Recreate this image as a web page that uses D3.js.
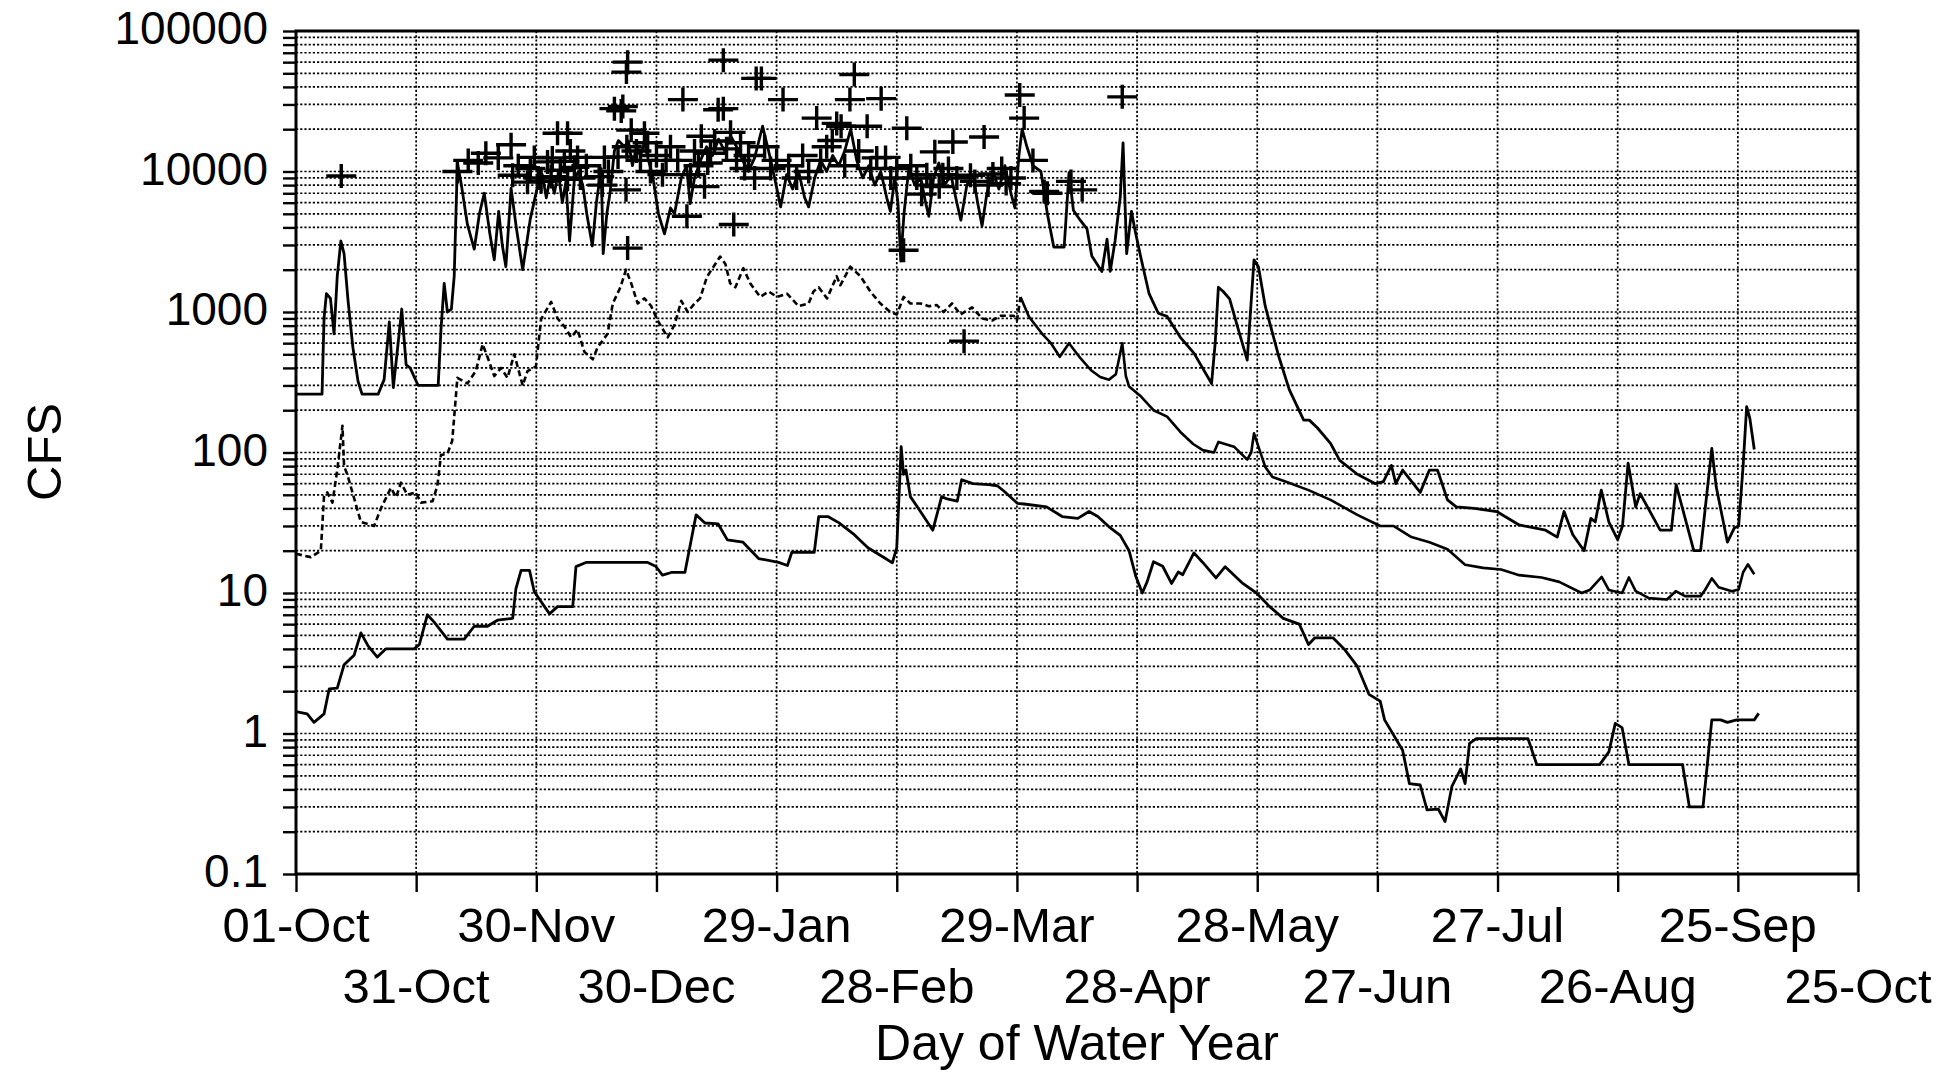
<!DOCTYPE html>
<html><head><meta charset="utf-8">
<script src="https://cdn.jsdelivr.net/npm/d3@7"></script>
<style>
html,body{margin:0;padding:0;background:#fff;}
svg{display:block;}
text{font-family:"Liberation Sans",Arial,Helvetica,sans-serif;fill:#000;}
</style></head><body>
<svg id="chart" width="1953" height="1077"></svg>
<script>
// ---------------- DATA ----------------
const tickLabels = ["01-Oct","31-Oct","30-Nov","30-Dec","29-Jan","28-Feb","29-Mar","28-Apr","28-May","27-Jun","27-Jul","26-Aug","25-Sep","25-Oct"];
const yDecades = [0.1, 1, 10, 100, 1000, 10000, 100000];
const xTitle = "Day of Water Year";
const yTitle = "CFS";

// upper solid line [day of water year, cfs]
const maxFlow = [[0,260],[6.5,260],[7,900],[7.6,1350],[8.6,1250],[9.5,700],[10.3,1800],[11.2,3200],[12,2600],[13,1200],[14.2,560],[15.5,320],[16.5,260],[20.5,260],[22,330],[23.3,850],[24.3,290],[25.5,600],[26.4,1050],[27.5,420],[28.5,400],[30.5,300],[35.5,300],[36.2,750],[37,1600],[37.8,1000],[38.8,1050],[39.5,1800],[40.3,11500],[41.3,8000],[42.8,4200],[44.5,2800],[45.8,5000],[47,7000],[48.4,3600],[49.5,2350],[50.6,5200],[51.5,3000],[52.4,2100],[53.7,7600],[55,4000],[56.6,2000],[58.5,4600],[60.3,7800],[61.5,9500],[62.5,6500],[63.5,9200],[64.5,7000],[65.5,9800],[66.5,6000],[67.4,8500],[68.3,3200],[69.5,8800],[70.5,10000],[71.6,8000],[72.6,5000],[74,2950],[75,6000],[76.2,10500],[76.7,2600],[77.6,5000],[78.4,7000],[79.5,14000],[80.5,16600],[82,15000],[83,16500],[84,11000],[85,15000],[86,13000],[87,16000],[88,12000],[89,9500],[90.5,5000],[92,3600],[93.5,5500],[94.5,5000],[96.2,9000],[97.5,11000],[98.4,5900],[99.5,9000],[101,12000],[102.5,15000],[104,13000],[105.5,17000],[107,14000],[108.5,18000],[110,15000],[111.5,12000],[113,10000],[114.5,12500],[116.5,21000],[118,14000],[119.5,9000],[121,5600],[122.5,9500],[124,7500],[125.5,10000],[127,6500],[128,5600],[129.5,9000],[131,12000],[132.5,10000],[134,13000],[135.5,11000],[137,14000],[138.5,20000],[140,12000],[141.5,9000],[143,11000],[144.5,8000],[146,10000],[147.5,6500],[148.4,5200],[149.5,9000],[150.3,6000],[151,2300],[151.8,5000],[153,10500],[154.5,8000],[156,9000],[157.2,6000],[158,4800],[159.2,9000],[160.5,11500],[162,8000],[163.5,9500],[165,6000],[166,4500],[167.5,8000],[169,9500],[170.2,6000],[171.3,4100],[172.5,7000],[174,10000],[175.5,7500],[177,11000],[178.5,7000],[179.5,5500],[180.5,13000],[181.3,20000],[182.5,15000],[184,11000],[186,10000],[187.6,5000],[189.2,2900],[191.8,2900],[193,9800],[194.1,5300],[195.8,4500],[197.5,3900],[198.7,2500],[201.2,1940],[202.5,3300],[203.3,1950],[204.5,3200],[205.8,6600],[206.5,16000],[207.4,2600],[208.6,5200],[209.5,3800],[211,2400],[213,1350],[215.3,980],[217.5,930],[220.8,660],[224.2,510],[228.6,310],[229.5,600],[230.3,1500],[231.5,1400],[233.1,1240],[235,800],[237.5,455],[238.5,1200],[239.2,2350],[240.3,2100],[242,1100],[245.4,480],[248,280],[251.6,170],[253,170],[255,150],[258.3,116],[260.6,88],[265,70],[269.5,60],[271.5,62],[273.5,81],[274.6,60],[276.3,75],[280.7,52],[283,75],[285,75],[287.5,46],[289.7,41],[294.2,40],[299.8,38],[305.4,30.5],[312,28],[314.9,25],[316.6,38],[318.8,26],[321.6,20],[323.3,34],[324.4,32],[325.9,54],[327.8,32],[330,24],[331.2,30],[332.6,84],[334.5,41],[335.6,51],[339,34],[340.6,28],[343.4,28],[344.6,59],[349,20],[350.7,20],[353.5,107],[354.6,57],[357.4,23],[359.1,29],[360.2,30],[361.3,79],[362.2,212],[363,175],[364.1,105]];

// middle (dashed) line
const medianFlow = [[0,19],[3.7,18],[6.2,20],[7,49],[7.8,52],[9.1,44],[10.3,75],[11.6,155],[12,80],[12.8,70],[16.2,32],[19.5,30],[21.2,40],[23.7,56],[25,48],[26.2,61],[27.8,50],[29.9,52],[31.2,44],[34.1,45],[35.3,58],[36.2,96],[37.8,98],[39,121],[40.3,340],[42.8,310],[44.9,380],[46.6,590],[47.8,480],[49.5,350],[51.2,400],[52.8,340],[54.5,500],[56.6,300],[57.8,380],[59.9,410],[61.2,890],[63.7,1180],[65.3,900],[67,790],[68.7,660],[70.3,750],[72,520],[74.1,460],[75.3,560],[77.8,700],[79.1,1150],[81,1500],[82.4,2000],[83.7,1600],[85.3,1150],[87,1250],[88.7,1100],[90.3,870],[92.8,660],[94.5,810],[96.2,1200],[97.8,1000],[99.5,1150],[100.9,1250],[102.6,1780],[105.9,2480],[107.2,2200],[108.4,1600],[109.7,1500],[111.7,2050],[113.4,1600],[115.9,1280],[118,1400],[120.1,1280],[122.6,1350],[125.5,1100],[128,1150],[129.2,1400],[130.5,1500],[132.6,1250],[135,1800],[135.9,1550],[138.4,2100],[140.9,1800],[143.4,1400],[145.9,1150],[148.4,1000],[150,960],[151.7,1280],[153.4,1150],[155.9,1150],[158,1100],[160,1120],[161.7,1000],[163.8,1150],[165.9,960],[168.8,1080],[171.3,900],[173.8,870],[175.9,940],[179.2,940],[180,870],[180.9,1280],[183,925],[186.3,700],[188.5,600],[190.7,480],[193,600],[195.7,475],[198.5,385],[200.8,345],[203,330],[204.7,360],[206.3,600],[207.2,350],[208,295],[211,250],[214.1,200],[217.5,180],[220.8,140],[224,115],[226.4,104],[229.2,100],[230.3,119],[234.2,110],[237.5,89],[238.5,100],[239.2,137],[240.3,110],[242,79],[243.8,67],[247.2,62],[252.8,54],[258.3,46],[265,36],[270.7,30],[274,30],[278.5,25],[283,23],[287.5,20.5],[291.9,15.9],[296.4,15.1],[300.9,14.7],[305.4,13.4],[311,12.9],[315.4,12],[321,10],[323,10.5],[326,13],[327.8,10.5],[331.1,10],[332.8,12.9],[334.5,10.3],[337.8,9.2],[342.3,9],[344.5,10.3],[346.8,9.5],[350.7,9.5],[351.8,10.5],[353.5,12.7],[355.2,11],[358.5,10.3],[360.2,10.6],[361.3,14],[362.5,16],[364.1,13.6]];

// lower solid line
const minFlow = [[0,1.43],[2.8,1.38],[4.5,1.2],[7,1.38],[8.3,2.08],[10.3,2.1],[12,3.08],[14.5,3.6],[16.2,5.2],[18,4.2],[20.3,3.5],[22.4,4.0],[29.5,4.0],[30.8,4.3],[32.8,7],[34.5,6.2],[37.8,4.7],[42,4.7],[44.5,5.8],[47.8,5.8],[50.3,6.4],[54.1,6.6],[54.9,10.7],[56.2,14.5],[58.3,14.5],[59.5,10.2],[63.3,7.1],[65.3,8],[69.1,8],[69.9,15.4],[72.4,16.5],[87.8,16.5],[89.8,15.5],[91.5,13.4],[93.7,14],[97.1,14],[99.9,36],[102.1,31.5],[105.4,31],[107.7,23.9],[111.6,23],[115.5,17.6],[120.5,16.5],[122.7,15.7],[123.8,19.5],[129.4,19.5],[130.5,35],[132.8,35],[135.5,31.7],[139.4,26],[142.8,21],[147.2,17.6],[148.9,16.4],[150,21],[151.1,110],[151.7,70],[152.3,75],[153.4,48.5],[156.2,37],[159,28],[161.2,48.5],[162.3,47],[165.1,45],[166.2,64],[169,60],[172.9,59],[175.1,58],[176.8,53],[180.1,43.5],[181.8,43],[187.4,41],[191.3,35],[195.2,34],[198,38],[200.2,35],[203,29.6],[205.8,25.7],[208,20],[209.7,13.1],[211.3,10],[212.5,12],[214.1,16.7],[216.4,15.5],[218.6,11.7],[220.3,14.1],[221.4,13.5],[224.2,19.3],[226.4,16.5],[229.7,12.8],[232,15.4],[236.4,11.7],[239.8,10],[243.1,8],[246.5,6.6],[250.5,6],[252.8,4.3],[254.4,4.8],[258.9,4.8],[261.7,4.0],[265,3.0],[267.9,1.9],[270.7,1.7],[271.8,1.25],[276.3,0.76],[278,0.44],[280.7,0.43],[282.4,0.286],[285.2,0.29],[286.9,0.236],[288.6,0.42],[290.8,0.56],[291.9,0.44],[293,0.85],[294.7,0.92],[307.6,0.92],[309.8,0.6],[325.5,0.6],[327.8,0.74],[329.4,1.18],[331.1,1.1],[332.8,0.6],[346.2,0.6],[347.9,0.3],[351.3,0.3],[353.5,1.25],[355.7,1.25],[357.4,1.2],[359.7,1.25],[364.1,1.25],[365.2,1.39]];

// "+" markers
const peakFlows = [[11.3,9300],[40.3,10000],[43,12000],[45.5,11500],[47.4,13500],[50.5,12500],[53.7,15500],[54.1,9400],[55.5,11000],[57.8,8400],[58.5,10500],[59.5,12600],[60.5,9000],[61.2,8500],[62.8,11700],[63.7,9200],[64,12500],[65.3,18700],[66,10200],[67,11800],[67.8,18700],[67.8,8800],[68.5,14000],[69.5,10700],[70.3,12600],[71,9000],[72.5,11000],[75.7,9200],[76.5,8000],[77,12600],[78,10000],[79.5,28000],[80.4,12700],[81.2,27000],[81.6,29000],[82.4,7400],[82.6,15000],[82.8,60000],[82.5,51000],[82.8,2850],[83.7,19700],[85,14000],[86,12000],[87,18700],[87.8,16000],[88.5,10000],[90,13000],[91.5,9500],[92.4,12000],[93.5,15000],[95.3,12000],[96.6,32500],[97.6,4800],[98.5,9500],[99.5,14000],[100.5,11000],[101.2,17800],[102,7800],[102.8,11500],[103.5,13500],[104.5,16500],[105.4,27500],[106.7,62000],[106.7,28000],[107.5,14500],[108.5,19000],[109.3,4200],[110,12000],[111,16000],[112,10500],[113,13000],[114.5,9000],[114.9,46000],[116.2,46000],[117,15000],[118.5,10500],[120,12000],[121.6,32500],[123,11000],[125,9000],[126.5,13000],[128,10000],[130,24000],[131,12000],[132.5,15000],[133.9,16600],[135,22000],[136.1,21000],[137,11000],[138.3,32500],[139.4,49000],[140.5,14000],[142.6,21000],[143.5,10500],[145,12500],[146.1,33000],[147.2,12600],[148.5,9000],[150,10500],[151.7,2750],[152.5,20300],[153.5,11000],[155,9000],[156.2,6900],[157.5,9500],[158.5,8000],[159.5,13800],[160.6,7800],[161.5,9500],[162.9,10500],[164,16200],[165,9000],[166.8,620],[168.4,9400],[169.5,8500],[171.8,17600],[172.8,8000],[174,9600],[176.2,10500],[177.3,8200],[178.5,9000],[180.7,35000],[181.8,24000],[184,12000],[186.8,7200],[187.6,7000],[193.5,8500],[196.3,7400],[206.3,34000]];

// ---------------- CHART ----------------
const M = {left: 296, right: 1858, top: 31, bottom: 874};
const x = d3.scaleLinear().domain([0, 390]).range([M.left, M.right]);
const y = d3.scaleLog().domain([0.1, 100000]).range([M.bottom, M.top]);
const svg = d3.select('#chart');

const gridVals = [];
yDecades.slice(0, -1).forEach(d => { for (let k = 1; k <= 9; k++) gridVals.push(+(d * k).toPrecision(3)); });
gridVals.push(100000);
const xTicks = tickLabels.map((_, i) => i * 30);

// grid
const grid = svg.append('g').attr('stroke', '#000').attr('stroke-width', 1.7).attr('stroke-dasharray', '2.2,2');
grid.selectAll('line.h').data(gridVals.filter(v => v > 0.1 && v < 100000)).join('line').attr('class', 'h')
  .attr('x1', M.left).attr('x2', M.right).attr('y1', d => y(d)).attr('y2', d => y(d));
grid.selectAll('line.v').data(xTicks.slice(1, -1)).join('line').attr('class', 'v')
  .attr('x1', d => x(d)).attr('x2', d => x(d)).attr('y1', M.top).attr('y2', M.bottom);

// data lines
const line = d3.line().x(d => x(d[0])).y(d => y(d[1]));
const lines = svg.append('g').attr('fill', 'none').attr('stroke', '#000').attr('stroke-linejoin', 'round');
lines.append('path').datum(maxFlow).attr('d', line).attr('stroke-width', 2.8);
lines.append('path').datum(medianFlow.filter(d => d[0] <= 181)).attr('d', line).attr('stroke-width', 2.6).attr('stroke-dasharray', '6,3.5');
lines.append('path').datum(medianFlow.filter(d => d[0] >= 180.9)).attr('d', line).attr('stroke-width', 2.6);
lines.append('path').datum(minFlow).attr('d', line).attr('stroke-width', 2.8);

// markers
svg.append('g').attr('stroke', '#000').attr('stroke-width', 3.4).attr('fill', 'none')
  .selectAll('path').data(peakFlows).join('path')
  .attr('transform', d => `translate(${x(d[0])},${y(d[1])})`)
  .attr('d', 'M-15,0H15M0,-12V12');

// axes
const yAxis = d3.axisLeft(y).tickValues(gridVals).tickSize(13).tickSizeOuter(0).tickPadding(15)
  .tickFormat(d => yDecades.includes(d) ? String(d) : '');
const gy = svg.append('g').attr('transform', `translate(${M.left},0)`).call(yAxis);
gy.select('.domain').remove();
gy.selectAll('.tick line').attr('stroke-width', 2.4);
gy.selectAll('.tick text').attr('font-size', 46).attr('dy', '0.28em')
  .attr('font-family', '"Liberation Sans",Arial,sans-serif');

const xAxis = d3.axisBottom(x).tickValues(xTicks).tickSize(18).tickSizeOuter(0).tickFormat('');
const gx = svg.append('g').attr('transform', `translate(0,${M.bottom})`).call(xAxis);
gx.select('.domain').remove();
gx.selectAll('.tick line').attr('stroke-width', 2.4);

svg.append('g').selectAll('text').data(xTicks).join('text')
  .attr('x', d => x(d)).attr('y', (d, i) => i % 2 === 0 ? 942 : 1003)
  .attr('text-anchor', 'middle').attr('font-size', 49)
  .text((d, i) => tickLabels[i]);

// frame
svg.append('rect').attr('x', M.left).attr('y', M.top).attr('width', M.right - M.left).attr('height', M.bottom - M.top)
  .attr('fill', 'none').attr('stroke', '#000').attr('stroke-width', 3);

// titles
svg.append('text').attr('x', (M.left + M.right) / 2).attr('y', 1060).attr('text-anchor', 'middle')
  .attr('font-size', 50).text(xTitle);
svg.append('text').attr('transform', `translate(44,452) rotate(-90)`).attr('text-anchor', 'middle')
  .attr('dominant-baseline', 'central').attr('font-size', 49).text(yTitle);
</script>
</body></html>
